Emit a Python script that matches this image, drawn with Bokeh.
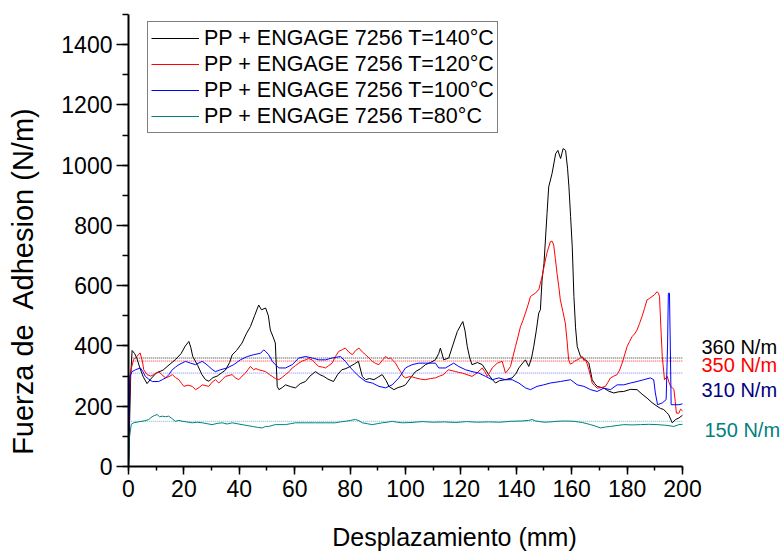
from bokeh.plotting import figure
from bokeh.models import (Range1d, SingleIntervalTicker, Legend, LegendItem, Label)
from bokeh.embed import file_html
from bokeh.resources import INLINE

# ---------------- data ----------------
x140 = [0, 0.8, 1.3, 2.2, 3, 4, 5.2, 6.7, 8, 10, 12.5, 15, 17, 19, 20.5, 21.8, 22.5, 23.2, 25, 26.5,
        27.8, 29, 30.5, 32, 33.5, 35, 36.5, 37.4, 39, 41, 42.5, 44, 45.5, 47, 48, 49.5, 50.5, 51.2, 52.2, 53,
        53.7, 54.3, 55.5, 56.7, 58.5, 60.3, 62, 63.9, 65.5, 67.5, 69, 70.5, 72, 74, 75.5, 77, 78.5, 80, 81.5, 83,
        84.4, 85.6, 87, 88.6, 90, 91.6, 93, 94, 95.8, 97.3, 98.8, 100, 101.8, 103.6, 105.5, 107.2, 109, 110.8, 112, 112.6,
        113.8, 115.6, 117, 118.7, 120, 120.7, 121.5, 122.3, 123.2, 124, 126, 127.7, 129, 130, 131.2, 132.5, 134, 136, 138.5, 140,
        140.9, 142, 143.3, 144.5, 145.5, 146.3, 147.2, 148.1, 148.7, 149.3, 150, 151.1, 151.7, 152.9, 154.2, 155, 156, 156.9, 157.8, 158.5,
        159, 159.6, 160.2, 160.8, 161.4, 162, 163.2, 164.1, 165, 166.2, 167.4, 168.3, 169.2, 171.6, 173.4, 175.2, 177, 178.8, 181.2, 183.6,
        185.4, 187.2, 189, 190.8, 192, 193.2, 194.2, 195, 196.3, 197.5, 198.7, 200]
y140 = [0, 300, 385, 375, 360, 330, 300, 275, 290, 310, 320, 340, 355, 375, 400, 415, 395, 365, 335, 305,
        288, 283, 295, 300, 310, 320, 345, 370, 385, 410, 440, 464, 500, 536, 520, 526, 500, 453, 430, 410,
        266, 255, 262, 271, 265, 261, 275, 282, 300, 315, 305, 299, 290, 282, 305, 321, 325, 332, 340, 349,
        299, 288, 292, 288, 296, 305, 285, 266, 255, 262, 266, 271, 294, 315, 325, 338, 345, 354, 375, 393,
        354, 360, 400, 448, 470, 481, 450, 398, 360, 338, 345, 338, 320, 305, 290, 277, 285, 288, 294, 310,
        327, 340, 354, 332, 360, 398, 450, 509, 520, 619, 674, 840, 928, 972, 1038, 1049, 1022, 1055, 1049, 990,
        928, 830, 729, 564, 460, 398, 365, 360, 354, 343, 288, 275, 266, 260, 250, 244, 248, 249, 256, 255,
        240, 227, 212, 200, 193, 189, 180, 172, 145, 156, 161, 170]

x120 = [0, 0.6, 1.8, 3, 4.2, 5, 5.5, 6.7, 8, 9.1, 10.9, 12, 13.4, 15, 15.8, 17, 18.2, 19.2, 20, 21.5,
        23, 24.2, 25.5, 26.6, 28, 29, 30.2, 31.4, 32.6, 34, 35, 36.3, 37.4, 38.5, 39.8, 41, 42.2, 43.2, 44, 45.2,
        46, 47, 48.3, 49.5, 50.9, 51.9, 53, 54.3, 55.5, 56.7, 58, 59.1, 60.3, 61.5, 62.7, 63.9, 65, 66.3, 67.5, 68.7,
        70, 71.1, 72.3, 73.5, 74.7, 75.9, 77.2, 78.3, 79.5, 80.8, 82, 83.2, 84.4, 85.6, 86.8, 88, 89.2, 90.4, 91.6, 92.8,
        93.8, 94.6, 95.5, 96.4, 97.3, 98.2, 99.1, 100, 101.8, 103.6, 105.4, 107.2, 109, 110.8, 112.3, 113.8, 114.7, 115.6, 116.8, 118.1,
        119.3, 120.5, 122.2, 124, 125.8, 127.7, 128.6, 129.5, 130.4, 131.3, 133.1, 134.9, 135.5, 136.1, 137, 137.9, 138.8, 139.7, 140.6, 141.5,
        142.4, 143.3, 144.2, 145.1, 146, 146.9, 147.5, 148.1, 148.7, 149.3, 150.5, 151.1, 152.3, 152.9, 153.5, 154.1, 154.7, 155.3, 155.9, 156.8,
        157.7, 158.3, 158.9, 159.5, 160.2, 161.1, 162, 162.9, 163.8, 164.4, 165, 165.6, 166.2, 166.8, 167.4, 168.3, 169.2, 170.7, 172.2, 173.1,
        174, 175.2, 176.4, 177.3, 178.2, 179.1, 180, 180.9, 181.8, 182.7, 183.6, 184.5, 185.4, 186.3, 187.2, 188.1, 189, 189.9, 190.8, 191.3,
        191.7, 192.2, 192.7, 193.5, 194.5, 195.1, 195.7, 196.3, 196.9, 197.4, 197.8, 198.7, 199.3, 200]
y120 = [0, 310, 354, 365, 377, 350, 321, 305, 300, 305, 315, 305, 294, 300, 305, 295, 288, 275, 266, 270,
        266, 255, 262, 271, 268, 266, 280, 288, 277, 290, 299, 302, 305, 295, 288, 300, 310, 322, 332, 321,
        325, 321, 318, 315, 305, 299, 292, 288, 296, 305, 315, 327, 335, 343, 350, 354, 358, 354, 342, 332,
        330, 327, 335, 343, 365, 382, 388, 393, 380, 371, 385, 393, 380, 371, 360, 349, 342, 338, 352, 365,
        358, 360, 352, 343, 328, 315, 300, 294, 299, 294, 290, 288, 292, 294, 300, 305, 315, 321, 318, 315,
        312, 310, 305, 299, 310, 327, 315, 299, 312, 327, 343, 349, 330, 310, 320, 332, 365, 398, 430, 464,
        485, 509, 535, 564, 570, 575, 582, 586, 608, 630, 685, 710, 746, 748, 735, 690, 641, 600, 553, 515,
        476, 420, 354, 340, 343, 350, 354, 358, 365, 352, 354, 340, 321, 300, 277, 268, 260, 262, 266, 280,
        294, 300, 305, 320, 343, 370, 398, 415, 431, 440, 453, 475, 498, 525, 553, 558, 564, 570, 580, 575,
        564, 460, 365, 288, 299, 280, 266, 262, 255, 215, 177, 177, 190, 185]

x100 = [0, 0.5, 1.3, 2.5, 4.3, 5.2, 6.1, 7.3, 8.6, 10.9, 12.2, 13.4, 14.6, 15.8, 17, 18.2, 20.6, 22.4, 24.2, 26.6,
        28, 29, 30.2, 31.4, 33.2, 35.6, 38, 40.4, 42.9, 45.2, 47.7, 48.8, 49.5, 50.5, 51.3, 51.9, 53, 54.3, 56.7, 59.1,
        61.5, 63.9, 66.3, 68.7, 71.1, 73.5, 76.5, 78.3, 79.5, 80.8, 83.2, 85.6, 88, 90.4, 92.8, 95.2, 97.6, 100, 101, 102.4,
        104.8, 107.2, 110.8, 112, 114.4, 117.4, 119.2, 121.7, 124, 126.5, 128.9, 131.3, 133.7, 136.1, 138.5, 140.9, 143.3, 145.1, 147.5, 149.9,
        152.3, 155.9, 159.6, 162, 164.4, 166.8, 169.2, 171.6, 174, 176.4, 178.8, 181.2, 183.6, 186, 188.4, 189.6, 190.2, 191, 192.7, 194.1,
        194.6, 194.9, 195.3, 195.6, 195.9, 196.9, 198.7, 200]
y100 = [0, 300, 315, 321, 327, 315, 299, 290, 282, 282, 288, 294, 305, 321, 330, 338, 349, 343, 338, 349,
        340, 332, 322, 315, 321, 327, 338, 354, 365, 371, 376, 387, 382, 372, 360, 349, 338, 327, 327, 338,
        360, 365, 360, 354, 354, 360, 365, 349, 335, 321, 299, 282, 277, 266, 261, 271, 294, 327, 332, 338,
        343, 343, 343, 327, 327, 343, 332, 321, 315, 310, 299, 288, 294, 288, 288, 277, 261, 255, 266, 271,
        277, 282, 288, 271, 266, 255, 249, 260, 255, 271, 271, 277, 282, 288, 294, 288, 244, 205, 211, 222,
        400, 575, 575, 400, 205, 205, 205, 208]

x80 = [0, 0.4, 1, 1.9, 3.5, 4.9, 6, 7.3, 8.5, 9.5, 10.4, 11.2, 12.2, 13.3, 14.5, 15.6, 16.9, 18.2, 19.4, 21,
       23, 24.8, 26.6, 28.4, 30.2, 32, 33.8, 35.6, 37.4, 39.2, 41, 42.8, 44.7, 46.5, 48.3, 49.5, 50.6, 51.8, 53, 56.7,
       58.5, 60.3, 63.9, 67.5, 71.1, 74.7, 76.5, 78.3, 80.1, 81.9, 83.2, 84.4, 86.2, 88, 89.8, 91.6, 93.4, 95.2, 97, 98.8,
       102, 106, 110, 114, 118, 122, 126, 130, 134, 138, 142, 144.5, 145.7, 147, 150, 152.5, 154.7, 157.7, 160.8, 163.8,
       166.8, 168.6, 170.4, 172.2, 174, 176.4, 178.8, 181.8, 184.8, 187.8, 190.8, 193.8, 196.9, 198.7, 200]
y80 = [0, 100, 140, 145, 148, 150, 152, 156, 165, 170, 172, 165, 167, 165, 167, 160, 150, 153, 150, 148,
       145, 147, 145, 142, 139, 143, 145, 141, 145, 142, 139, 136, 133, 130, 128, 133, 133, 136, 139, 139,
       142, 145, 145, 145, 145, 145, 148, 150, 153, 156, 152, 145, 142, 139, 142, 145, 147, 150, 147, 145,
       146, 149, 147, 148, 146, 149, 147, 148, 147, 150, 151, 153, 156, 151, 147, 148, 150, 151, 150, 146,
       139, 134, 128, 131, 133, 136, 139, 138, 139, 140, 139, 137, 133, 139, 140]

legend_labels = ["PP + ENGAGE 7256 T=140\u00b0C", "PP + ENGAGE 7256 T=120\u00b0C",
                 "PP + ENGAGE 7256 T=100\u00b0C", "PP + ENGAGE 7256 T=80\u00b0C"]
series_colors = ["#000000", "#ff0000", "#0000ff", "#008080"]

mean_values = [360, 350, 310, 150]
mean_line_colors = ["#333333", "#ff3030", "#8080ff", "#70b8b8"]
mean_texts = ["360 N/m", "350 N/m", "310 N/m", "150 N/m"]
mean_text_colors = ["#000000", "#ff0000", "#000080", "#008080"]
mean_text_y = [398, 338, 255, 122]
mean_text_dx = [19, 19, 19, 22]

X_MAX_AXIS = 200
X_MAX_VIEW = 235.38   # extra room right of the axis for the value labels
Y_MAX = 1500

FONT = "Liberation Sans"
NBSP = "\u00a0"

# ---------------- figure ----------------
p = figure(width=784, height=553, output_backend="svg", toolbar_location=None,
           x_range=Range1d(0, X_MAX_VIEW), y_range=Range1d(0, Y_MAX),
           min_border_left=128, min_border_right=4, min_border_top=14, min_border_bottom=86)
p.background_fill_color = "white"
p.border_fill_color = "white"
p.outline_line_color = None
p.grid.visible = False

# mean (dotted) reference lines
for v, c in zip(mean_values, mean_line_colors):
    p.line([1, X_MAX_AXIS], [v, v], line_color=c, line_width=1, line_dash="1 1")

series = [(x140, y140), (x120, y120), (x100, y100), (x80, y80)]
renderers = []
for (xs, ys), c in zip(series, series_colors):
    renderers.append(p.line(xs, ys, line_color=c, line_width=1))

# axes
for ax, interval in ((p.xaxis, 20), (p.yaxis, 200)):
    ax.ticker = SingleIntervalTicker(interval=interval, num_minor_ticks=2)
    ax.axis_line_width = 2
    ax.axis_line_color = "black"
    ax.major_tick_line_width = 1.5
    ax.minor_tick_line_width = 1.5
    ax.major_tick_line_color = "black"
    ax.minor_tick_line_color = "black"
    ax.major_tick_in = 0
    ax.minor_tick_in = 0
    ax.major_label_text_font = FONT
    ax.major_label_text_font_size = "23px"
    ax.major_label_text_color = "black"
    ax.axis_label_text_font = FONT
    ax.axis_label_text_font_style = "normal"
    ax.axis_label_text_color = "black"

p.xaxis.bounds = (0, X_MAX_AXIS)
p.xaxis.major_tick_out = 8
p.xaxis.minor_tick_out = 4
p.xaxis.major_label_standoff = 5
p.xaxis.axis_label = "Desplazamiento (mm)"
p.xaxis.axis_label_text_font_size = "25px"
p.xaxis.axis_label_standoff = 23

p.yaxis.major_tick_out = 12
p.yaxis.minor_tick_out = 6
p.yaxis.major_label_standoff = 4
# non-breaking spaces keep the double gap and move the (centred) title down
p.yaxis.axis_label = "Fuerza de" + NBSP + " Adhesion (N/m)" + NBSP * 10
p.yaxis.axis_label_text_font_size = "29px"
p.yaxis.axis_label_standoff = 19

# legend
items = [LegendItem(label=l, renderers=[r]) for l, r in zip(legend_labels, renderers)]
legend = Legend(items=items, location=(19, 333))
legend.label_text_font = FONT
legend.label_text_font_size = "21.5px"
legend.label_text_color = "black"
legend.glyph_width = 48
legend.glyph_height = 26
legend.label_height = 26
legend.label_standoff = 5
legend.spacing = 0
legend.padding = 3
legend.margin = 0
legend.border_line_color = "black"
legend.border_line_width = 1
legend.background_fill_color = "white"
legend.background_fill_alpha = 1
p.add_layout(legend)

# value labels at the right of the axis
for t, c, yv, dx in zip(mean_texts, mean_text_colors, mean_text_y, mean_text_dx):
    p.add_layout(Label(x=X_MAX_AXIS, y=yv, x_offset=dx, text=t, text_color=c,
                       text_font=FONT, text_font_size="20px", text_baseline="middle"))

open("out.html", "w").write(file_html(p, INLINE))
